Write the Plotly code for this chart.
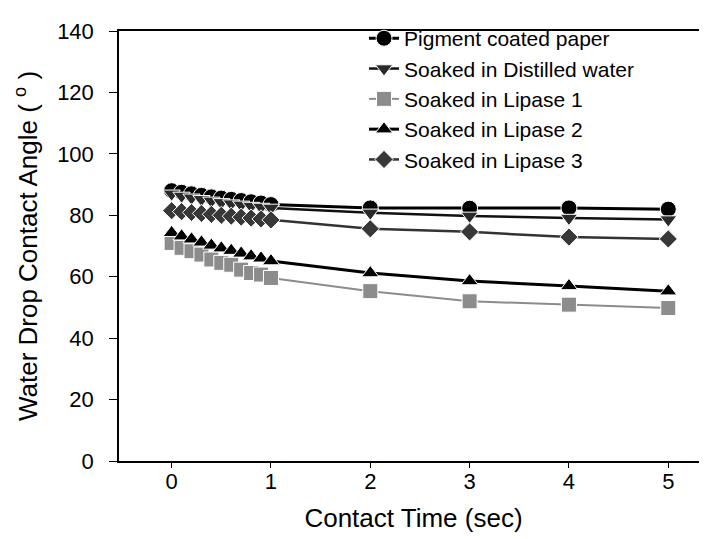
import plotly.graph_objects as go

time_s = [0, 0.1, 0.2, 0.3, 0.4, 0.5, 0.6, 0.7, 0.8, 0.9, 1.0, 2, 3, 4, 5]

series_names = [
    "Pigment coated paper",
    "Soaked in Distilled water",
    "Soaked in Lipase 1",
    "Soaked in Lipase 2",
    "Soaked in Lipase 3",
]

pigment_coated = [88.0, 87.5, 87.0, 86.5, 86.0, 85.6, 85.2, 84.8, 84.4, 84.0, 83.5, 82.4, 82.3, 82.4, 82.0]
distilled_water = [87.0, 86.3, 85.7, 85.2, 84.7, 84.2, 83.8, 83.4, 83.0, 82.7, 82.4, 80.8, 79.8, 79.1, 78.6]
lipase_1 = [71.0, 69.4, 68.3, 67.2, 65.6, 64.5, 63.9, 62.3, 61.2, 60.7, 59.6, 55.3, 52.0, 50.9, 49.8]
lipase_2 = [74.3, 73.2, 72.2, 71.2, 70.2, 69.3, 68.5, 67.6, 66.7, 66.0, 65.1, 61.2, 58.6, 57.0, 55.3]
lipase_3 = [81.5, 81.2, 80.9, 80.6, 80.3, 80.0, 79.7, 79.4, 79.1, 78.8, 78.5, 75.6, 74.6, 72.9, 72.3]

y_ticks = [0, 20, 40, 60, 80, 100, 120, 140]
x_ticks = [0, 1, 2, 3, 4, 5]

values = [pigment_coated, distilled_water, lipase_1, lipase_2, lipase_3]
symbols = ["circle", "triangle-down", "square", "triangle-up", "diamond"]
marker_colors = ["#000000", "#2a2a2a", "#8c8c8c", "#000000", "#383838"]
line_colors = ["#000000", "#111111", "#8c8c8c", "#000000", "#333333"]
line_widths = [3, 2.5, 2, 3, 2.5]
marker_sizes = [16, 15, 15, 15, 14]

fig = go.Figure()
for i, name in enumerate(series_names):
    fig.add_trace(go.Scatter(
        x=time_s, y=values[i], name=name, mode="lines+markers",
        legendgroup=str(i),
        line=dict(color=line_colors[i], width=line_widths[i]),
        marker=dict(symbol=symbols[i], size=marker_sizes[i], color=marker_colors[i],
                    line=dict(color="white", width=1)),
    ))

font_family = "Liberation Sans, Arial, sans-serif"
fig.update_layout(
    width=707, height=539,
    margin=dict(l=111, r=5, t=23, b=86),
    paper_bgcolor="white", plot_bgcolor="white",
    font=dict(family=font_family, color="black", size=22),
    showlegend=True,
    legend=dict(
        x=0.416, y=1.03, xanchor="left", yanchor="top",
        font=dict(size=21, family=font_family, color="black"),
        bgcolor="rgba(0,0,0,0)", borderwidth=0,
        traceorder="grouped", tracegroupgap=0,
    ),
    xaxis=dict(
        range=[-0.53, 5.40], tickvals=x_ticks, ticks="outside", ticklen=5,
        tickwidth=1, tickcolor="black", showline=True, linecolor="black",
        linewidth=1.5, mirror=True, showgrid=False, zeroline=False,
        tickfont=dict(size=22), ticklabelstandoff=-5,
        title=dict(text="Contact Time (sec)", font=dict(size=26), standoff=16),
    ),
    yaxis=dict(
        range=[0, 140], tickvals=y_ticks, ticks="outside", ticklen=8,
        tickwidth=1, tickcolor="black", showline=True, linecolor="black",
        linewidth=1.5, mirror=True, showgrid=False, zeroline=False,
        tickfont=dict(size=22), ticklabelstandoff=11,
        title=dict(text="Water Drop Contact Angle ( <sup>o</sup> )", font=dict(size=26), standoff=12),
    ),
)

fig.write_html("out.html")
